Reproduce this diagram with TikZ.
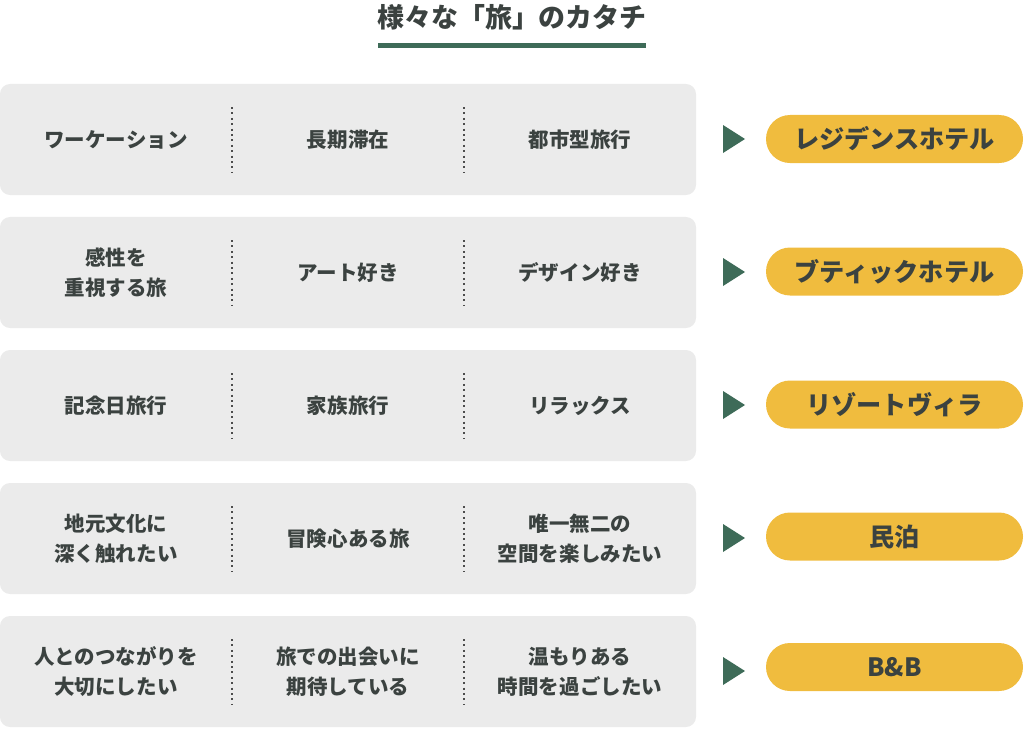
\documentclass[tikz,border=0pt]{standalone}
\usepackage{fontspec}
\setmainfont{Noto Sans CJK JP}
\definecolor{boxgray}{HTML}{EBEBEB}
\definecolor{inkgray}{HTML}{3B4240}
\definecolor{leafgreen}{HTML}{3E6B58}
\definecolor{gold}{HTML}{F0BC3E}
\begin{document}
\begin{tikzpicture}[
                        x=0.03cm, y=-0.03cm,
                        rowbox/.style={rectangle, fill=boxgray, rounded corners=0.3cm, minimum width=20.88cm, minimum height=3.33cm, inner sep=0},
                        item/.style={align=center, text=inkgray, font=\fontsize{17.5}{25.6}\selectfont\bfseries, inner sep=0},
                        pick/.style={fill=leafgreen},
                        pill/.style={rectangle, fill=gold, rounded corners=0.72cm, minimum width=7.71cm, minimum height=1.44cm, text=inkgray, font=\fontsize{21.5}{26}\selectfont\bfseries},
                        sep/.style={black!70, line width=0.06cm, dash pattern=on 0.06cm off 0.102cm}
                    ]
                    \useasboundingbox (0,0) rectangle (1024,729);
                    % Title
                    \node [text=inkgray, font=\fontsize{23}{28}\selectfont\bfseries] (title) at (512,17) {様々な「旅」のカタチ};
                    \draw [leafgreen, line width=0.15cm] (378,45.5) -- (646,45.5);

                    % Row 1
                    \node [rowbox] (R1) at (348,139.5) {};
                    \node [item] (R1a) at (116,139.5) {ワーケーション};
                    \node [item] (R1b) at (348,139.5) {長期滞在};
                    \node [item] (R1c) at (580,139.5) {都市型旅行};
                    \coordinate (P1) at (734,139);
                    \fill [pick] (P1) ++(-11,-14) -- ++(22,14) -- ++(-22,14) -- cycle;
                    \node [pill] (H1) at (894.5,139) {レジデンスホテル};
                    \draw [sep] (232,107) -- (232,173);
                    \draw [sep] (464,107) -- (464,173);

                    % Row 2
                    \node [rowbox] (R2) at (348,272.5) {};
                    \node [item] (R2a) at (116,272.5) {感性を\\重視する旅};
                    \node [item] (R2b) at (348,272.5) {アート好き};
                    \node [item] (R2c) at (580,272.5) {デザイン好き};
                    \coordinate (P2) at (734,272);
                    \fill [pick] (P2) ++(-11,-14) -- ++(22,14) -- ++(-22,14) -- cycle;
                    \node [pill] (H2) at (894.5,271.5) {ブティックホテル};
                    \draw [sep] (232,240) -- (232,306);
                    \draw [sep] (464,240) -- (464,306);

                    % Row 3
                    \node [rowbox] (R3) at (348,405.5) {};
                    \node [item] (R3a) at (116,405.5) {記念日旅行};
                    \node [item] (R3b) at (348,405.5) {家族旅行};
                    \node [item] (R3c) at (580,405.5) {リラックス};
                    \coordinate (P3) at (734,405);
                    \fill [pick] (P3) ++(-11,-14) -- ++(22,14) -- ++(-22,14) -- cycle;
                    \node [pill] (H3) at (894.5,404.5) {リゾートヴィラ};
                    \draw [sep] (232,373) -- (232,439);
                    \draw [sep] (464,373) -- (464,439);

                    % Row 4
                    \node [rowbox] (R4) at (348,538.5) {};
                    \node [item] (R4a) at (116,538.5) {地元文化に\\深く触れたい};
                    \node [item] (R4b) at (348,538.5) {冒険心ある旅};
                    \node [item] (R4c) at (580,538.5) {唯一無二の\\空間を楽しみたい};
                    \coordinate (P4) at (734,538);
                    \fill [pick] (P4) ++(-11,-14) -- ++(22,14) -- ++(-22,14) -- cycle;
                    \node [pill] (H4) at (894.5,536.5) {民泊};
                    \draw [sep] (232,506) -- (232,572);
                    \draw [sep] (464,506) -- (464,572);

                    % Row 5
                    \node [rowbox] (R5) at (348,671.5) {};
                    \node [item] (R5a) at (116,671.5) {人とのつながりを\\大切にしたい};
                    \node [item] (R5b) at (348,671.5) {旅での出会いに\\期待している};
                    \node [item] (R5c) at (580,671.5) {温もりある\\時間を過ごしたい};
                    \coordinate (P5) at (734,671);
                    \fill [pick] (P5) ++(-11,-14) -- ++(22,14) -- ++(-22,14) -- cycle;
                    \node [pill] (H5) at (894.5,667) {B\&B};
                    \draw [sep] (232,639) -- (232,705);
                    \draw [sep] (464,639) -- (464,705);
                \end{tikzpicture}
\end{document}
